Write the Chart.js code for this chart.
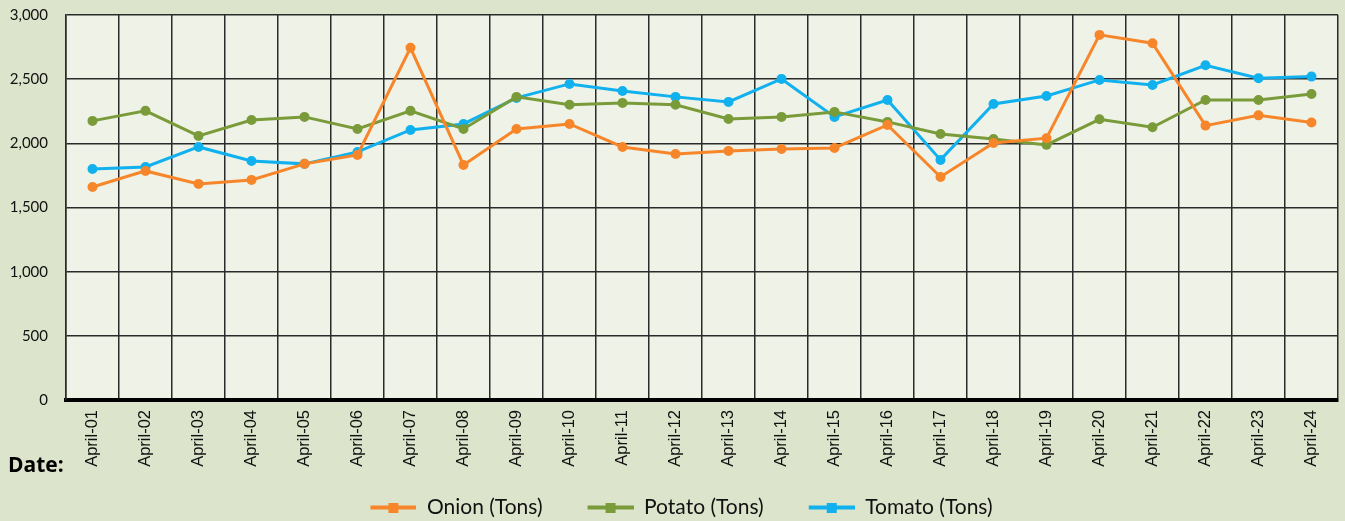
<!DOCTYPE html>
<html lang="en">
<head>
  <meta charset="utf-8" />
  <title>Vegetable arrivals</title>
  <script src="https://cdn.jsdelivr.net/npm/chart.js"></script>
  <style>
    html, body { margin: 0; padding: 0; background: #dde4cc; }
    #wrap { width: 1345px; height: 521px; position: relative; }
  </style>
</head>
<body>
  <div id="wrap"><canvas id="myChart" width="1345" height="521"></canvas></div>

  <script>
    const dates = [
      'April-01', 'April-02', 'April-03', 'April-04', 'April-05', 'April-06',
      'April-07', 'April-08', 'April-09', 'April-10', 'April-11', 'April-12',
      'April-13', 'April-14', 'April-15', 'April-16', 'April-17', 'April-18',
      'April-19', 'April-20', 'April-21', 'April-22', 'April-23', 'April-24'
    ];
    const onion = [1660, 1785, 1684, 1715, 1840, 1910, 2744, 1832, 2112, 2151, 1972, 1917,
      1941, 1956, 1964, 2143, 1738, 2003, 2040, 2845, 2780, 2138, 2218, 2162];
    const potato = [2175, 2253, 2058, 2182, 2206, 2112, 2253, 2112, 2362, 2300, 2315, 2300,
      2190, 2206, 2245, 2167, 2073, 2034, 1988, 2187, 2125, 2338, 2338, 2384];
    const tomato = [1800, 1816, 1972, 1863, 1840, 1933, 2104, 2151, 2354, 2463, 2408, 2362,
      2323, 2502, 2206, 2338, 1871, 2307, 2369, 2494, 2455, 2608, 2508, 2520];
    const yTicks = [0, 500, 1000, 1500, 2000, 2500, 3000];

    // legend swatch: line with a square marker in the middle
    // (20px of empty space on the left widens the gap between items)
    function swatch(color) {
      const c = document.createElement('canvas');
      c.width = 66; c.height = 10;
      const g = c.getContext('2d');
      g.fillStyle = color;
      g.fillRect(20, 3, 46, 4);
      g.fillRect(38, 0, 10, 10);
      return c;
    }

    const bgPlugin = {
      id: 'bg',
      beforeDraw(chart) {
        const { ctx, chartArea: a } = chart;
        ctx.save();
        ctx.fillStyle = '#dde4cc';
        ctx.fillRect(0, 0, chart.width, chart.height);
        ctx.fillStyle = '#eff2e7';
        ctx.fillRect(a.left, a.top, a.right - a.left, a.bottom - a.top);
        ctx.restore();
      },
      afterDraw(chart) {
        const { ctx } = chart;
        ctx.save();
        ctx.font = 'bold 21px "Open Sans", sans-serif';
        ctx.fillStyle = '#000';
        ctx.textBaseline = 'middle';
        ctx.fillText('Date:', 8, 466);
        ctx.restore();
      }
    };

    const mk = (label, data, color) => ({
      label: label,
      data: data,
      borderColor: color,
      backgroundColor: color,
      borderWidth: 3,
      pointRadius: 3.5,
      pointHoverRadius: 4,
      tension: 0
    });

    new Chart(document.getElementById('myChart'), {
      type: 'line',
      data: {
        labels: dates,
        datasets: [
          mk('Onion (Tons)', onion, '#f7862a'),
          mk('Potato (Tons)', potato, '#7a9b3a'),
          mk('Tomato (Tons)', tomato, '#10b1ee')
        ]
      },
      plugins: [bgPlugin],
      options: {
        responsive: false,
        animation: false,
        layout: { padding: { top: 15, right: 2, left: 0, bottom: -7 } },
        plugins: {
          tooltip: { enabled: false },
          legend: {
            position: 'bottom',
            labels: {
              usePointStyle: true,
              pointStyleWidth: 66,
              padding: 25,
              color: '#111',
              font: { family: 'Lato, "Open Sans", sans-serif', size: 21 },
              generateLabels(chart) {
                return chart.data.datasets.map((ds, i) => ({
                  text: ds.label,
                  fillStyle: ds.borderColor,
                  strokeStyle: ds.borderColor,
                  lineWidth: 0,
                  pointStyle: swatch(ds.borderColor),
                  hidden: false,
                  datasetIndex: i,
                  fontColor: '#111'
                }));
              }
            }
          }
        },
        scales: {
          x: {
            offset: true,
            grid: { offset: true, color: '#2a2a2a', lineWidth: 1.5, drawTicks: false },
            border: { color: '#000', width: 4 },
            ticks: {
              autoSkip: false,
              minRotation: 90,
              maxRotation: 90,
              padding: 10,
              color: '#111',
              font: { family: '"Liberation Sans", Arial, sans-serif', size: 16.5 }
            },
            afterFit(scale) { scale.height = 72; }
          },
          y: {
            min: 0,
            max: 3000,
            afterBuildTicks(scale) { scale.ticks = yTicks.map(v => ({ value: v })); },
            grid: { color: '#2a2a2a', lineWidth: 1.5, drawTicks: true, tickLength: 15, tickColor: 'rgba(0,0,0,0)' },
            border: { color: '#2a2a2a', width: 1.5 },
            ticks: {
              padding: 3,
              color: '#111',
              font: { family: 'Lato, "Open Sans", sans-serif', size: 15 },
              callback: v => v.toLocaleString('en-US')
            },
            afterFit(scale) { scale.width = 66; }
          }
        }
      }
    });
  </script>
</body>
</html>
